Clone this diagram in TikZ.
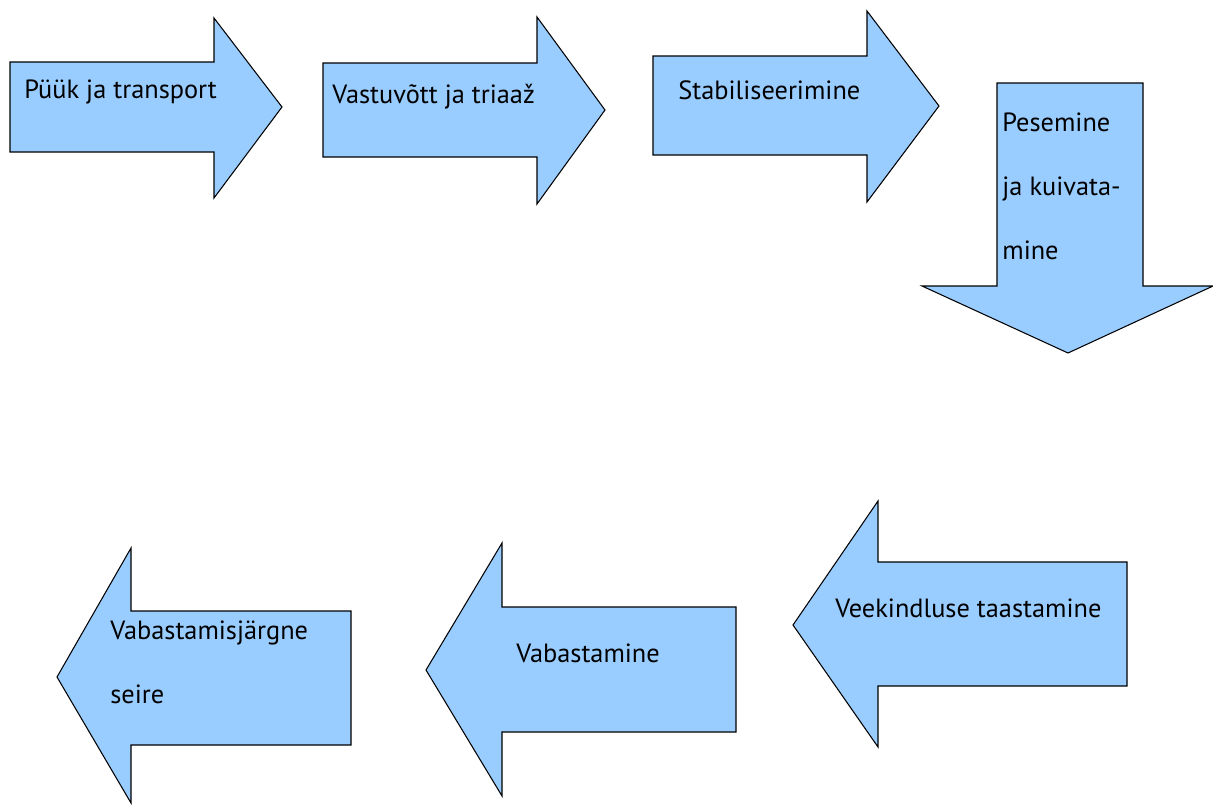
\documentclass[tikz,border=0pt]{standalone}
\usepackage{fontspec}
\setmainfont{PT Sans}
\definecolor{arrowblue}{HTML}{99CCFF}

\begin{document}
\begin{tikzpicture}[x=0.02cm,y=-0.02cm,
  blockarrow/.style={draw=black,line width=0.6pt,fill=arrowblue,line join=miter},
  steptext/.style={anchor=base west,inner sep=0pt,align=left,
    font=\fontsize{15}{36.3}\selectfont}]
  \useasboundingbox (0,0) rectangle (1213,805);

  % top row, pointing right
  \draw[blockarrow] (10,62) -- (214,62) -- (214,18) -- (282,107)
    -- (214,198) -- (214,152) -- (10,152) -- cycle;
  \draw[blockarrow] (323,63) -- (537,63) -- (537,17) -- (605,110)
    -- (537,204) -- (537,157) -- (323,157) -- cycle;
  \draw[blockarrow] (653,56) -- (867,56) -- (867,11) -- (939,106)
    -- (867,202) -- (867,155) -- (653,155) -- cycle;

  % turn down
  \draw[blockarrow] (997,83) -- (1143,83) -- (1143,286) -- (1213,286)
    -- (1068,353) -- (922,286) -- (997,286) -- cycle;

  % bottom row, pointing left
  \draw[blockarrow] (1127,562) -- (878,562) -- (878,501) -- (793,625)
    -- (878,747) -- (878,686) -- (1127,686) -- cycle;
  \draw[blockarrow] (736,607) -- (502,607) -- (502,543) -- (426,670)
    -- (502,796) -- (502,732) -- (736,732) -- cycle;
  \draw[blockarrow] (351,611) -- (131,611) -- (131,548) -- (57,677)
    -- (131,803) -- (131,745) -- (351,745) -- cycle;

  % labels (multi-line ones sit on their last line)
  \node[steptext] (puuk) at (24,98) {Püük ja transport};
  \node[steptext] (vastuvott) at (332,103) {Vastuvõtt ja triaaž};
  \node[steptext] (stab) at (678,99) {Stabiliseerimine};
  \node[steptext] (pesemine) at (1002,259) {Pesemine\\ja kuivata-\\mine};
  \node[steptext] (veekindlus) at (835,617) {Veekindluse taastamine};
  \node[steptext] (vabastamine) at (516,662) {Vabastamine};
  \node[steptext] (seire) at (110,703) {Vabastamisjärgne\\seire};
\end{tikzpicture}
\end{document}
